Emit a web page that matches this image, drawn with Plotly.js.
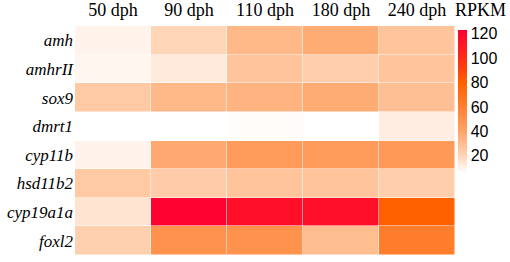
<!DOCTYPE html>
<html>
<head>
<meta charset="utf-8">
<script src="https://cdn.plot.ly/plotly-3.0.1.min.js"></script>
<style>html,body{margin:0;padding:0;background:#fff;}#chart{width:510px;height:262px;}</style>
</head>
<body>
<div id="chart"></div>
<script>
var stages = ["50 dph", "90 dph", "110 dph", "180 dph", "240 dph"];
var genes = ["amh", "amhrII", "sox9", "dmrt1", "cyp11b", "hsd11b2", "cyp19a1a", "foxl2"];
var amh      = [10, 20, 32, 37, 27];
var amhrII   = [9, 13, 27, 23, 27];
var sox9     = [25, 32, 34, 37, 29];
var dmrt1    = [5, 5, 7, 6, 12];
var cyp11b   = [10, 38, 45, 45, 46];
var hsd11b2  = [25, 24, 27, 27, 23];
var cyp19a1a = [15, 122, 115, 115, 80];
var foxl2    = [22, 50, 50, 30, 62];
var colorbarTicks = [20, 40, 60, 80, 100, 120];

var zRows = [amh, amhrII, sox9, dmrt1, cyp11b, hsd11b2, cyp19a1a, foxl2];
var zmin = 6, zmax = 123;
function f(v){ return (v - zmin) / (zmax - zmin); }
var cs = [
  [0, '#ffffff'],
  [f(20), '#ffd5b8'],
  [f(40), '#ffa468'],
  [f(60), '#ff8030'],
  [f(80), '#ff6000'],
  [f(100), '#ff2c14'],
  [1, '#ff0033']
];

var trace = {
  type: 'heatmap',
  x: stages,
  y: genes,
  z: zRows,
  zmin: zmin, zmax: zmax,
  colorscale: cs,
  xgap: 0.5, ygap: 0.5,
  hoverinfo: 'skip',
  colorbar: {
    thickness: 9,
    thicknessmode: 'pixels',
    len: 143, lenmode: 'pixels',
    x: 1.008, xanchor: 'left',
    y: 0.983, yanchor: 'top',
    outlinewidth: 0,
    xpad: 0, ypad: 0,
    tickvals: colorbarTicks,
    ticktext: colorbarTicks.map(String),
    ticks: '',
    tickfont: {family: 'Liberation Sans, Arial, sans-serif', size: 16, color: '#000'}
  }
};

var layout = {
  width: 510, height: 262,
  margin: {l: 75, r: 55, t: 26, b: 7},
  paper_bgcolor: '#fff', plot_bgcolor: '#fff',
  xaxis: {
    side: 'top', showgrid: false, zeroline: false, showline: false, ticks: '',
    tickfont: {family: 'Liberation Serif, Times New Roman, serif', size: 18, color: '#000'},
    ticklabelstandoff: 5,
    fixedrange: true
  },
  yaxis: {
    autorange: 'reversed', showgrid: false, zeroline: false, showline: false, ticks: '',
    tickfont: {family: 'Liberation Serif, Times New Roman, serif', size: 17, color: '#000', style: 'italic'},
    ticklabelstandoff: 1,
    fixedrange: true
  },
  annotations: [{
    text: 'RPKM', xref: 'paper', yref: 'paper', x: 1.0, y: 1.0, xanchor: 'left', yanchor: 'bottom',
    yshift: 4, xshift: -2, showarrow: false,
    font: {family: 'Liberation Serif, Times New Roman, serif', size: 18, color: '#000'}
  }]
};

Plotly.newPlot('chart', [trace], layout, {staticPlot: true, displayModeBar: false});
</script>
</body>
</html>
